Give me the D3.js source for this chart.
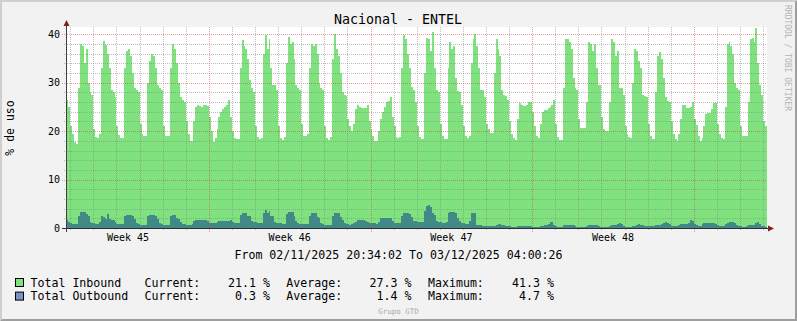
<!DOCTYPE html>
<html>
<head>
<meta charset="utf-8">
<script src="https://cdn.jsdelivr.net/npm/d3@7"></script>
<style>
html, body { margin: 0; padding: 0; background: #f2f2f2; }
text { font-family: "DejaVu Sans Mono", monospace; }
</style>
</head>
<body>
<svg id="chart" width="797" height="321"></svg>
<script>
var W = 797, H = 321;

// time range of the graph (UTC, as printed under the chart)
var tStart = new Date(Date.UTC(2025, 10, 2, 20, 34, 2)),
    tEnd = new Date(Date.UTC(2025, 11, 3, 4, 0, 26)),
    firstBin = new Date(Date.UTC(2025, 10, 2, 20, 0, 0)),
    binHours = 2;

// % de uso, one value per 2 hours, one row per day
var inbound = [
  26.4, 25.0,                                                          // 02/11
  21, 19.5, 17.8, 17.3, 29, 38, 37.5, 34, 37, 30, 28, 27.5,            // 03/11
  20.5, 18.8, 18.6, 19.5, 33, 38.6, 37.8, 36, 33, 28.5, 28, 27,
  21, 19.2, 18.6, 18.6, 33, 36.5, 37, 35.5, 32, 29, 28.4, 28,
  21.5, 19.5, 18.9, 18.9, 30, 34.5, 35.9, 35.5, 33, 29.5, 29, 28.5,
  21, 19, 18.9, 19, 33, 38, 37, 34, 30, 27, 26.5, 26,
  22, 19.5, 18, 18, 22, 25, 25.5, 25.2, 25, 25.3, 25.5, 25.2,          // 08/11
  23, 20, 17.8, 18.5, 20.5, 23, 24, 24.5, 25, 25.5, 26.5, 23,
  20, 18.6, 18.4, 18.4, 33, 38.8, 37.5, 37, 35, 30.5, 28.9, 28,        // 10/11
  21, 18.8, 18.4, 18.5, 36, 39.9, 37, 39, 33, 29.5, 29.5, 28.5,
  21, 18.6, 18.2, 18.8, 34, 39.5, 38, 38.5, 35, 29.5, 28.9, 28.5,
  21.5, 19, 18.9, 19.5, 33, 38, 37.5, 38, 36, 30, 29, 28.5,
  21, 18.5, 18.2, 18.8, 35, 40, 37, 35.5, 32, 28, 27.5, 27.2,
  22.5, 21, 20, 21.5, 24.5, 25.5, 25, 24.7, 24.7, 24.7, 25.5, 22,      // 15/11
  20.5, 19, 18, 17.9, 20, 22.5, 24, 25, 26, 26.3, 27, 23,
  21, 18.8, 18.6, 18.8, 33, 39.9, 39, 36, 33, 29.2, 28.5, 26,          // 17/11
  21, 18.8, 18.4, 18.4, 32, 39.2, 39, 36.5, 40.5, 33, 28.5, 28,
  21.5, 19, 18.3, 18.3, 33, 38.5, 37, 37.5, 31, 28.2, 28, 25.5,
  21, 19, 18.5, 19, 34, 39, 40, 37.5, 33, 28.5, 28.5, 27,
  21.5, 20.5, 19.6, 19.6, 32, 39, 37, 35.5, 28.5, 27.5, 27.2, 26.5,
  22, 19.5, 18.5, 18.2, 22.5, 25.8, 25.5, 25.1, 25.1, 25.3, 26, 26,    // 22/11
  24, 21, 19, 18.6, 21.5, 24, 24.4, 24.4, 24.7, 25, 25.5, 26.5,
  21.5, 18.8, 18.2, 18.2, 29, 39, 39, 38.5, 37, 31, 29, 28.5,          // 24/11
  22.5, 20.7, 20.6, 20.6, 26, 38.5, 38, 36.5, 38, 33, 29.6, 29.5,
  23, 20.5, 20, 20, 26, 39, 38.5, 35.5, 36.5, 29, 28.9, 27.5,
  21, 19.5, 18.8, 18.6, 30, 37, 36.5, 34.5, 33, 27.5, 27.3, 27,
  21.5, 19, 18.3, 18.3, 28, 35.5, 36.4, 35, 31, 27, 26.3, 26,
  22, 19.5, 18.3, 18, 19.5, 22.5, 25.5, 25.5, 24.7, 24.7, 25, 26,      // 29/11
  22.5, 21.3, 19, 17.9, 18.5, 21, 23.5, 23.7, 23.7, 24.5, 25.8, 25.8,
  21.5, 19.5, 18.5, 18.3, 25, 38, 38.5, 37.5, 36, 30, 28.9, 28.5,      // 01/12
  21, 19, 18.9, 18.9, 26, 39, 39.2, 38.5, 41.3, 34, 29.6, 27.5,
  22, 21.1                                                             // 03/12
];

var outbound = [
  1.7, 1.3,
  1.0, 0.9, 0.9, 0.9, 2.5, 3.4, 3.4, 3.3, 2.8, 2.4, 1.2, 1.0,
  1.0, 0.9, 0.9, 1.3, 2.5, 2.2, 1.9, 2.8, 1.8, 1.7, 1.7, 1.2,
  0.9, 0.8, 0.8, 0.8, 2.5, 2.75, 2.75, 2.75, 2.5, 1.9, 1.0, 0.8,
  0.7, 0.7, 0.7, 0.7, 2.5, 2.75, 2.75, 2.75, 2.4, 1.9, 1.0, 0.8,
  0.7, 0.7, 0.7, 0.7, 2.4, 2.75, 2.7, 2.0, 1.8, 1.2, 0.9, 0.8,
  0.7, 0.7, 0.7, 0.8, 1.4, 1.7, 1.7, 1.7, 1.7, 1.7, 1.6, 1.4,
  1.0, 1.0, 1.0, 1.0, 1.2, 1.4, 1.4, 1.4, 1.4, 1.4, 1.5, 1.6,
  1.3, 1.0, 1.0, 1.0, 2.6, 3.1, 3.1, 3.0, 2.4, 2.4, 1.5, 1.2,
  1.2, 1.0, 1.0, 1.0, 3.0, 3.8, 3.2, 3.6, 2.4, 2.4, 1.3, 1.0,
  1.0, 1.0, 0.9, 0.9, 2.8, 3.4, 3.4, 3.3, 2.4, 1.5, 1.0, 0.9,
  0.9, 0.8, 0.8, 0.8, 2.4, 3.0, 3.0, 3.0, 2.2, 2.0, 1.0, 0.8,
  0.7, 0.7, 0.7, 0.7, 2.5, 3.1, 3.1, 3.0, 2.2, 1.6, 1.0, 0.9,
  0.8, 0.7, 0.8, 1.0, 1.3, 1.7, 1.7, 1.7, 1.7, 1.5, 1.2, 1.0,
  1.0, 1.0, 1.0, 0.9, 1.3, 2.0, 2.1, 2.1, 2.0, 2.0, 2.1, 1.5,
  1.0, 1.0, 1.0, 1.0, 2.4, 3.0, 3.0, 3.0, 2.8, 2.2, 1.5, 1.4,
  1.3, 1.3, 1.3, 1.3, 3.5, 4.5, 4.7, 4.4, 3.0, 2.6, 1.4, 1.3,
  1.2, 1.1, 1.0, 1.2, 3.2, 3.4, 3.4, 3.4, 3.0, 2.0, 1.5, 1.0,
  1.0, 0.9, 0.9, 1.5, 3.1, 3.1, 3.0, 0.7, 0.6, 0.6, 0.5, 0.5,
  0.4, 0.4, 0.4, 0.4, 0.5, 0.6, 0.8, 0.8, 0.7, 0.6, 0.5, 0.5,
  0.4, 0.3, 0.3, 0.3, 0.4, 0.5, 0.5, 0.5, 0.5, 0.5, 0.5, 0.5,
  0.3, 0.3, 0.3, 0.3, 0.4, 0.5, 0.6, 0.7, 0.8, 1.2, 1.3, 0.6,
  0.4, 0.3, 0.3, 0.3, 0.6, 0.7, 0.7, 0.7, 0.7, 0.6, 0.4, 0.3,
  0.3, 0.2, 0.2, 0.2, 0.4, 0.6, 0.6, 0.6, 0.6, 0.6, 0.4, 0.3,
  0.3, 0.3, 0.3, 0.3, 0.5, 0.6, 0.6, 0.7, 0.9, 1.0, 0.8, 0.4,
  0.3, 0.3, 0.3, 0.3, 0.4, 0.5, 0.7, 0.8, 0.7, 0.6, 0.5, 0.4,
  0.4, 0.4, 0.4, 0.4, 0.6, 0.7, 0.7, 0.8, 1.0, 1.2, 1.1, 0.8,
  0.5, 0.5, 0.5, 0.5, 0.6, 0.8, 0.8, 0.9, 0.9, 1.1, 1.6, 1.5,
  0.8, 0.6, 0.5, 0.5, 0.8, 1.0, 1.1, 1.1, 1.1, 1.1, 1.0, 0.8,
  0.6, 0.5, 0.5, 0.5, 0.8, 1.1, 1.2, 1.2, 1.2, 1.0, 0.7, 0.5,
  0.4, 0.3, 0.3, 0.4, 0.6, 0.6, 0.7, 0.6, 1.0, 1.2, 0.8, 0.5,
  0.4, 0.3
];

var yTicks = [0, 10, 20, 30, 40];
var weekLabels = ["Week 45", "Week 46", "Week 47", "Week 48"];
var weekCenters = [Date.UTC(2025, 10, 5, 12), Date.UTC(2025, 10, 12, 12),
                   Date.UTC(2025, 10, 19, 12), Date.UTC(2025, 10, 26, 12)];

var seriesNames = ["Total Inbound", "Total Outbound"];
var current = [21.1, 0.3], average = [27.3, 1.4], maximum = [41.3, 4.7];

var green = "#80e27e", blue = "rgb(0,48,144)";

var svg = d3.select("#chart");

var x = d3.scaleUtc().domain([tStart, tEnd]).range([67, 767]);
var y = d3.scaleLinear().domain([0, 41.3]).range([228, 28]);

// frame
svg.append("rect").attr("width", W).attr("height", H).attr("fill", "#f2f2f2");
svg.append("path").attr("fill", "#cfcfcf")
    .attr("d", "M0,0H" + W + "L" + (W - 2) + ",2H2V" + (H - 2) + "L0," + H + "Z");
svg.append("path").attr("fill", "#9e9e9e")
    .attr("d", "M" + W + ",0V" + H + "H0L2," + (H - 2) + "H" + (W - 2) + "V2Z");

svg.append("rect").attr("x", 67).attr("y", 27).attr("width", 700).attr("height", 201)
    .attr("fill", "#fff");

function toPoints(vals) {
    var pts = vals.map(function (v, i) {
        var t = new Date(firstBin.getTime() + i * binHours * 3600e3);
        return { t: t < tStart ? tStart : t, v: v };
    });
    pts.push({ t: tEnd, v: vals[vals.length - 1] });
    return pts;
}

var area = d3.area()
    .x(function (d) { return x(d.t); })
    .y0(y(0))
    .y1(function (d) { return y(d.v); })
    .curve(d3.curveStepAfter);

svg.append("path").datum(toPoints(inbound))
    .attr("d", area).attr("fill", green).attr("shape-rendering", "crispEdges");
svg.append("path").datum(toPoints(outbound))
    .attr("d", area).attr("fill", blue).attr("fill-opacity", 0.5)
    .attr("shape-rendering", "crispEdges");

// grid
var grid = svg.append("g").attr("fill", "none").attr("stroke-width", 1)
    .attr("stroke-dasharray", "1,1");
var minorCol = "rgba(128,128,128,0.5)", majorCol = "rgba(222,60,60,0.5)";

d3.range(2, 41, 2).forEach(function (v) {
    var yy = Math.round(y(v)) + 0.5, major = v % 10 === 0;
    grid.append("line").attr("x1", 67).attr("x2", 767).attr("y1", yy).attr("y2", yy)
        .attr("stroke", major ? majorCol : minorCol);
    grid.append("line").attr("x1", major ? 62 : 64).attr("x2", 67).attr("y1", yy).attr("y2", yy)
        .attr("stroke", major ? majorCol : minorCol).attr("stroke-dasharray", null);
});

d3.utcDay.range(d3.utcDay.ceil(tStart), tEnd).forEach(function (d) {
    var xx = Math.round(x(d)) + 0.5, major = d.getUTCDay() === 0;
    grid.append("line").attr("x1", xx).attr("x2", xx).attr("y1", 27).attr("y2", 228)
        .attr("stroke", major ? majorCol : minorCol);
    grid.append("line").attr("x1", xx).attr("x2", xx).attr("y1", 229).attr("y2", major ? 233 : 231)
        .attr("stroke", major ? majorCol : minorCol).attr("stroke-dasharray", null);
});

// axes and arrows
svg.append("line").attr("x1", 66.5).attr("x2", 66.5).attr("y1", 24).attr("y2", 232)
    .attr("stroke", "#404040");
svg.append("line").attr("x1", 62).attr("x2", 769).attr("y1", 228.5).attr("y2", 228.5)
    .attr("stroke", "#303030");
svg.append("path").attr("fill", "#7f1f1f").attr("d", "M66.5,20L63.5,26H69.5Z");
svg.append("path").attr("fill", "#7f1f1f").attr("d", "M774,228.5L768,225.5V231.5Z");

// labels
svg.selectAll(".ytick").data(yTicks).enter().append("text")
    .attr("x", 60).attr("y", function (d) { return y(d) + 3.5; })
    .attr("text-anchor", "end").attr("font-size", 10).text(function (d) { return d; });

svg.selectAll(".week").data(weekLabels).enter().append("text")
    .attr("x", function (d, i) { return x(new Date(weekCenters[i])); })
    .attr("y", 241).attr("text-anchor", "middle").attr("font-size", 10)
    .attr("xml:space", "preserve").style("white-space", "pre")
    .text(function (d) { return d; });

svg.append("text").attr("x", 398).attr("y", 24).attr("text-anchor", "middle")
    .attr("font-size", 13.3).text("Nacional - ENTEL");

svg.append("text").attr("transform", "translate(14,128) rotate(-90)")
    .attr("text-anchor", "middle").attr("font-size", 11.5).text("% de uso");

svg.append("text").attr("transform", "translate(785,5) rotate(90)")
    .attr("font-size", 8).attr("fill", "#b4b4b4").text("RRDTOOL / TOBI OETIKER");

svg.append("text").attr("x", 398.5).attr("y", 258.5).attr("text-anchor", "middle")
    .attr("font-size", 11.6).style("white-space", "pre")
    .text("From 02/11/2025 20:34:02 To 03/12/2025 04:00:26");

// legend
var rows = svg.selectAll(".leg").data(seriesNames).enter().append("g")
    .attr("transform", function (d, i) { return "translate(0," + (286.5 + i * 13.6) + ")"; })
    .attr("font-size", 11.6);
rows.append("rect").attr("x", 15.5).attr("y", -8).attr("width", 8).attr("height", 8)
    .attr("stroke", "#000").attr("fill", function (d, i) { return i ? "rgb(122,146,194)" : green; });
rows.append("text").attr("x", 30.5).text(function (d) { return d; });
rows.append("text").attr("x", 144.5).text("Current:");
rows.append("text").attr("x", 270).attr("text-anchor", "end")
    .text(function (d, i) { return current[i].toFixed(1) + " %"; });
rows.append("text").attr("x", 286.3).text("Average:");
rows.append("text").attr("x", 411.5).attr("text-anchor", "end")
    .text(function (d, i) { return average[i].toFixed(1) + " %"; });
rows.append("text").attr("x", 428).text("Maximum:");
rows.append("text").attr("x", 554).attr("text-anchor", "end")
    .text(function (d, i) { return maximum[i].toFixed(1) + " %"; });

svg.append("text").attr("x", 398.5).attr("y", 313.5).attr("text-anchor", "middle")
    .attr("font-size", 7.5).attr("fill", "#a8a8a8").text("Grupo GTD");
</script>
</body>
</html>
